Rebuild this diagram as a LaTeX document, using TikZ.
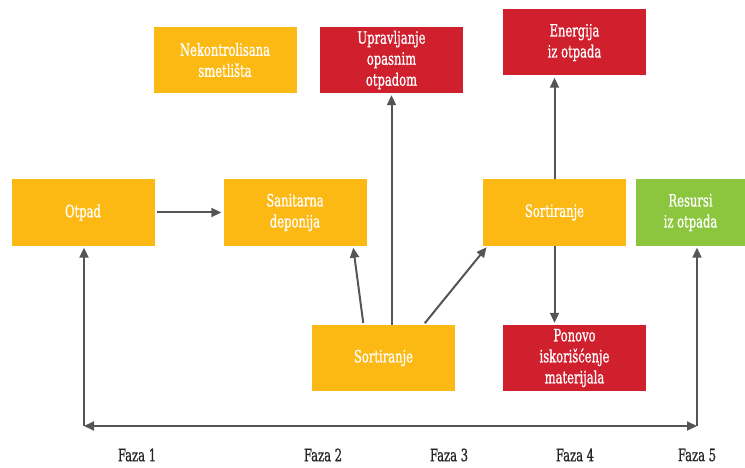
\documentclass[tikz,border=0pt]{standalone}
\usepackage{fontspec}
\setmainfont{DejaVu Serif}[FakeStretch=0.68,FakeBold=0.8]
\usetikzlibrary{calc,arrows.meta}
\definecolor{wyel}{HTML}{FDB913}
\definecolor{wred}{HTML}{D0202E}
\definecolor{wgrn}{HTML}{8CC63F}
\definecolor{wline}{HTML}{555555}

\begin{document}
\begin{tikzpicture}[x=1pt,y=-1pt,font=\fontsize{17}{21}\selectfont,
  box/.style={text=white,align=center,inner sep=0pt,minimum width=143pt,minimum height=66pt},
  yel/.style={box,fill=wyel},red/.style={box,fill=wred},grn/.style={box,fill=wgrn},
  flow/.style={wline,line width=2pt,shorten >=2pt,-{Triangle[length=10pt,width=9pt]}},
  faza/.style={text=black!85}]
  \useasboundingbox (0,0) rectangle (745,468);
  \node[yel] (smet) at (225,60) {Nekontrolisana\\smetlišta};
  \node[red] (upr) at (391.5,60) {Upravljanje\\opasnim\\otpadom};
  \node[red] (ener) at (574.5,42.5) {Energija\\iz otpada};
  \node[yel] (otpad) at (83,212.5) {Otpad};
  \node[yel] (sanit) at (295,212.5) {Sanitarna\\deponija};
  \node[yel] (sort2) at (554.5,212.5) {Sortiranje};
  \node[grn,minimum width=109pt] (res) at (690.5,212.5) {Resursi\\iz otpada};
  \node[yel] (sort1) at (383.5,358) {Sortiranje};
  \node[red] (pon) at (574.5,358) {Ponovo\\iskorišćenje\\materijala};
  \coordinate (bl) at (84,426);
  \coordinate (br) at (697,426);
  \draw[flow,shorten <=2pt] (otpad) -- (sanit);
  \draw[flow,shorten <=2pt] ([xshift=-20pt]sort1.north) -- ([xshift=58pt]sanit.south);
  \draw[flow] (sort1.north -| upr.south) -- (upr.south);
  \draw[flow,shorten <=2pt] ([xshift=40pt]sort1.north) -- ([xshift=5pt]sort2.south west);
  \draw[flow] (sort2.north) -- (sort2.north |- ener.south);
  \draw[flow] (sort2.south) -- (sort2.south |- pon.north);
  \draw[flow,{Triangle[length=10pt,width=9pt]}-{Triangle[length=10pt,width=9pt]},shorten >=0pt] (bl) -- (br);
  \draw[flow] (bl) -- (bl |- otpad.south);
  \draw[flow] (br) -- (br |- res.south);
  \node[faza] (f1) at (137,455) {Faza 1};
  \node[faza] (f2) at (323,455) {Faza 2};
  \node[faza] (f3) at (449,455) {Faza 3};
  \node[faza] (f4) at (575,455) {Faza 4};
  \node[faza] (f5) at (697,455) {Faza 5};
\end{tikzpicture}
\end{document}
